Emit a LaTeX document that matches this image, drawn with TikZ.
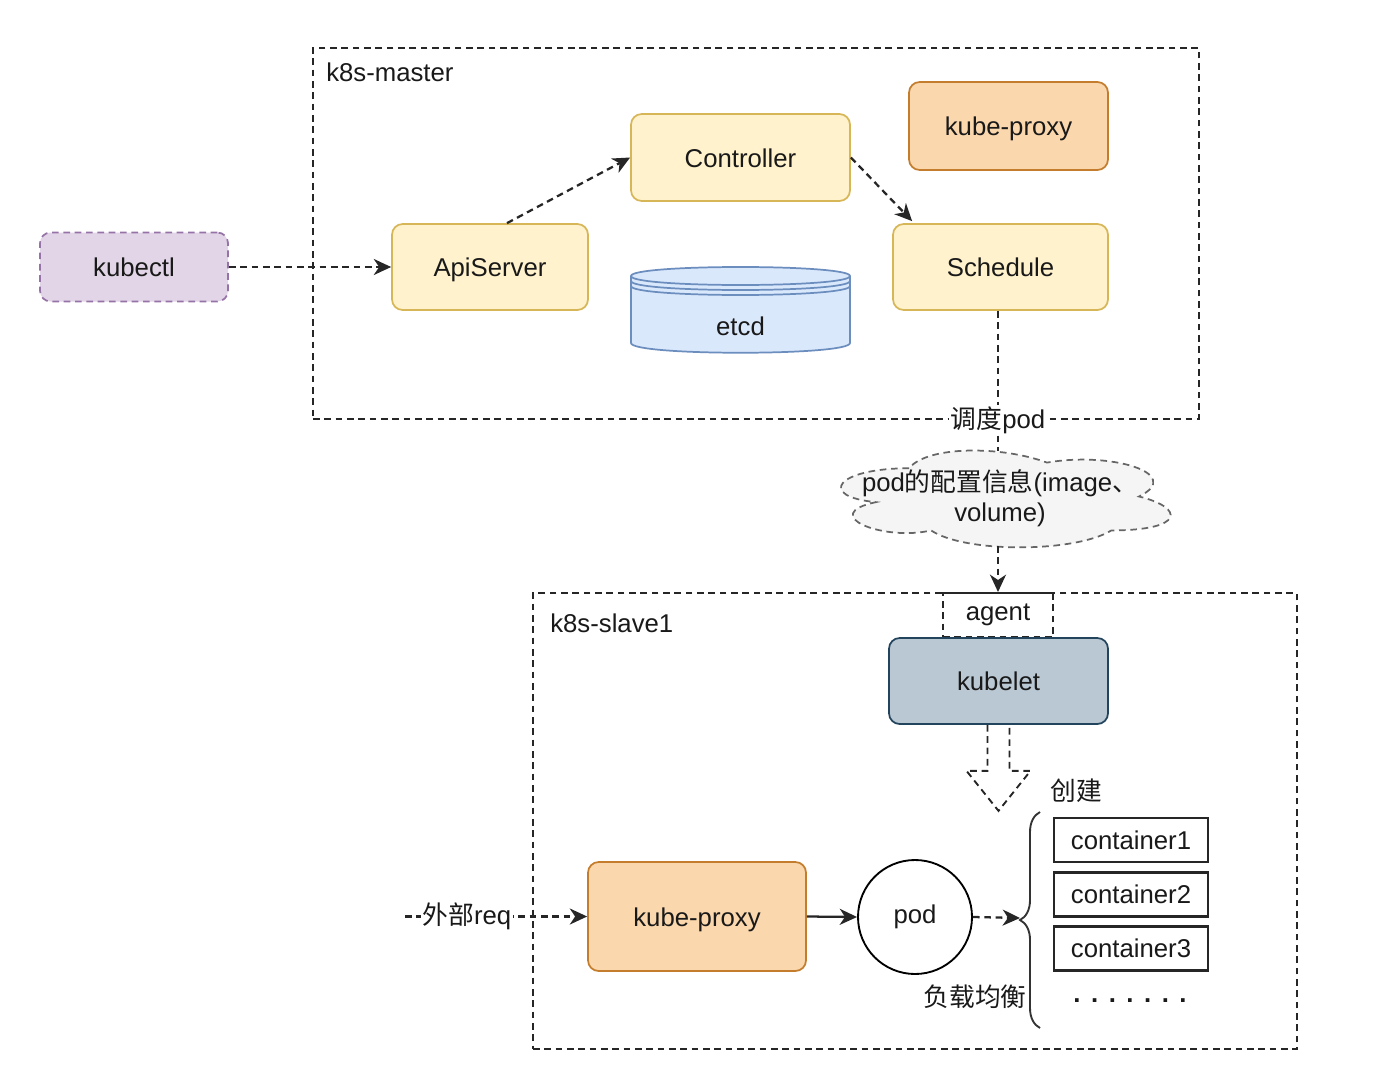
\documentclass[tikz,border=0pt]{standalone}
\usepackage{fontspec}
\setmainfont{Liberation Sans}
\newfontfamily\cjk{Noto Sans CJK SC}
\definecolor{note-fill}{RGB}{255,242,204}
\definecolor{note-line}{RGB}{214,182,86}
\definecolor{proxy-fill}{RGB}{250,215,172}
\definecolor{proxy-line}{RGB}{196,125,45}
\definecolor{cli-fill}{RGB}{225,213,231}
\definecolor{cli-line}{RGB}{150,115,166}
\definecolor{store-fill}{RGB}{218,232,252}
\definecolor{store-line}{RGB}{108,142,191}
\definecolor{agent-fill}{RGB}{186,200,211}
\definecolor{agent-line}{RGB}{35,68,93}
\definecolor{cloud-fill}{RGB}{245,245,245}
\definecolor{cloud-line}{RGB}{102,102,102}
\newcommand\diagfont{\fontsize{19.3}{22.5}\selectfont}
\usetikzlibrary{arrows.meta,positioning,calc,decorations.pathreplacing}

\begin{document}
\begin{tikzpicture}[x=0.75pt,y=-0.75pt,every node/.style={font=\diagfont,text=black!90},
    box/.style={draw,rounded corners=8pt,line width=1.3pt,text height=16pt,text depth=1.5pt},
    frame/.style={draw=black!85,dash pattern=on 5pt off 3.5pt,line width=1.5pt},
    dashln/.style={black!85,dash pattern=on 5pt off 3.5pt,line width=1.7pt},
    tip/.style={-{Stealth[length=13pt,width=12pt,inset=4pt]}},
    lbl/.style={fill=white,inner sep=1pt}]
    \useasboundingbox (0,0) rectangle (1376,1070);
    % the two machines
    \node[frame,minimum width=664.5pt,minimum height=278.25pt] (master) at (756,233.5) {};
    \node[anchor=west,inner sep=0pt] (masterlbl) at (326,72) {k8s-master};
    \node[frame,minimum width=573pt,minimum height=342pt] (slave) at (915,821) {};
    \node[anchor=west,inner sep=0pt] (slavelbl) at (550,623) {k8s-slave1};
    %
    \node[box,draw=cli-line,fill=cli-fill,dash pattern=on 5pt off 3.5pt,
        minimum width=141pt,minimum height=51.75pt] (kubectl) at (134,267) {kubectl};
    \node[box,draw=note-line,fill=note-fill,minimum width=147pt,minimum height=64.5pt] (api) at (490,267) {ApiServer};
    \node[box,draw=note-line,fill=note-fill,minimum width=164.25pt,minimum height=65.25pt] (ctrl) at (740.5,157.5) {Controller};
    \node[box,draw=proxy-line,fill=proxy-fill,minimum width=149.25pt,minimum height=66pt] (proxy1) at (1008.5,126) {kube-proxy};
    \node[box,draw=note-line,fill=note-fill,minimum width=161.25pt,minimum height=64.5pt] (sched) at (1000.5,267) {Schedule};
    % etcd
    \filldraw[store-line,fill=store-fill,line width=1.3pt] (631,276) -- (631,343)
        .. controls (631,356) and (850,356) .. (850,343) -- (850,276)
        .. controls (850,264) and (631,264) .. (631,276) -- cycle;
    \foreach \dy in {0,5,10}
        \draw[store-line,line width=1.3pt] (631,{276+\dy}) .. controls (631,{288+\dy}) and (850,{288+\dy}) .. (850,{276+\dy});
    \node (etcd) at (740.5,326) {etcd};
    %
    \draw[dashln,tip] (kubectl) -- (api);
    \draw[dashln,tip] ($(api.north)+(17,0)$) -- (ctrl.west);
    \draw[dashln,tip] (ctrl.east) -- ($(sched.north west)+(20,-2)$);
    % pod spec
    \begin{scope}[shift={(817,440)},x={(276pt,0)},y={(0,-84.75pt)}]
        \filldraw[draw=cloud-line,fill=cloud-fill,dash pattern=on 5pt off 3.5pt,line width=1.3pt]
            (0.25,0.25) .. controls (0.05,0.25) and (0,0.5) .. (0.16,0.55)
            .. controls (0,0.66) and (0.18,0.9) .. (0.31,0.8)
            .. controls (0.4,1) and (0.7,1) .. (0.8,0.8)
            .. controls (1,0.8) and (1,0.6) .. (0.875,0.5)
            .. controls (1,0.3) and (0.8,0.1) .. (0.625,0.2)
            .. controls (0.5,0.05) and (0.3,0.05) .. (0.25,0.25) -- cycle;
    \end{scope}
    \coordinate (cfgtop) at (998,451);
    \coordinate (cfgbot) at (998,546);
    \node[align=center] (cfgtxt) at (1000,498) {pod{\cjk 的配置信息}(image{\cjk 、}\\volume)};
    \draw[dashln] (sched.south -| cfgtop) -- (master.south -| cfgtop) node[lbl] (sendlbl) {{\cjk 调度}pod} -- (cfgtop);
    \draw[dashln,tip] (cfgbot) -- (slave.north -| cfgbot);
    % node side
    \node[frame,minimum width=82.5pt,minimum height=33pt] (agent) at (998,615) {agent};
    \node[box,draw=agent-line,fill=agent-fill,minimum width=164.25pt,minimum height=64.5pt] (kubelet) at (998.5,681) {kubelet};
    \draw[dashln,line width=1.4pt] ($(kubelet.south)+(-11,0)$) -- ++(0,46) -- ++(-21,0) -- ++(32,40)
        -- ++(32,-40) -- ++(-21,0) -- ++(0,-46);
    \node (create) at (1076,791) {\cjk 创建};
    %
    \node[box,draw=proxy-line,fill=proxy-fill,minimum width=163.5pt,minimum height=81.75pt] (proxy2) at (697,916.5) {kube-proxy};
    \node[circle,draw,line width=1.4pt,minimum size=85.5pt] (pod) at (915,917) {pod};
    \coordinate (extreq) at (405,916.5);
    \coordinate (brtip) at (1020,918);
    \draw[dashln,tip] (extreq) -- node[lbl,pos=0.34] (reqlbl) {{\cjk 外部}req} (proxy2.west);
    \draw[black!85,line width=1.7pt,tip] (proxy2.east) -- (pod.west);
    \draw[dashln,tip] (pod.east) -- (brtip);
    \draw[decorate,decoration={brace,amplitude=15pt},line width=1.4pt,black!80] (1040,1028) -- (1040,812);
    \node (balance) at (975,997) {\cjk 负载均衡};
    % containers
    \foreach \y/\n in {840/1,894.5/2,948.5/3}
        \node[draw=black!85,line width=1.6pt,minimum width=115.5pt,minimum height=33pt] (cont\n) at (1131,\y) {container\n};
    \node (more) at (1130,1001) {\bfseries .\hspace{7.9pt}.\hspace{7.9pt}.\hspace{7.9pt}.\hspace{7.9pt}.\hspace{7.9pt}.\hspace{7.9pt}.};
\end{tikzpicture}
\end{document}
